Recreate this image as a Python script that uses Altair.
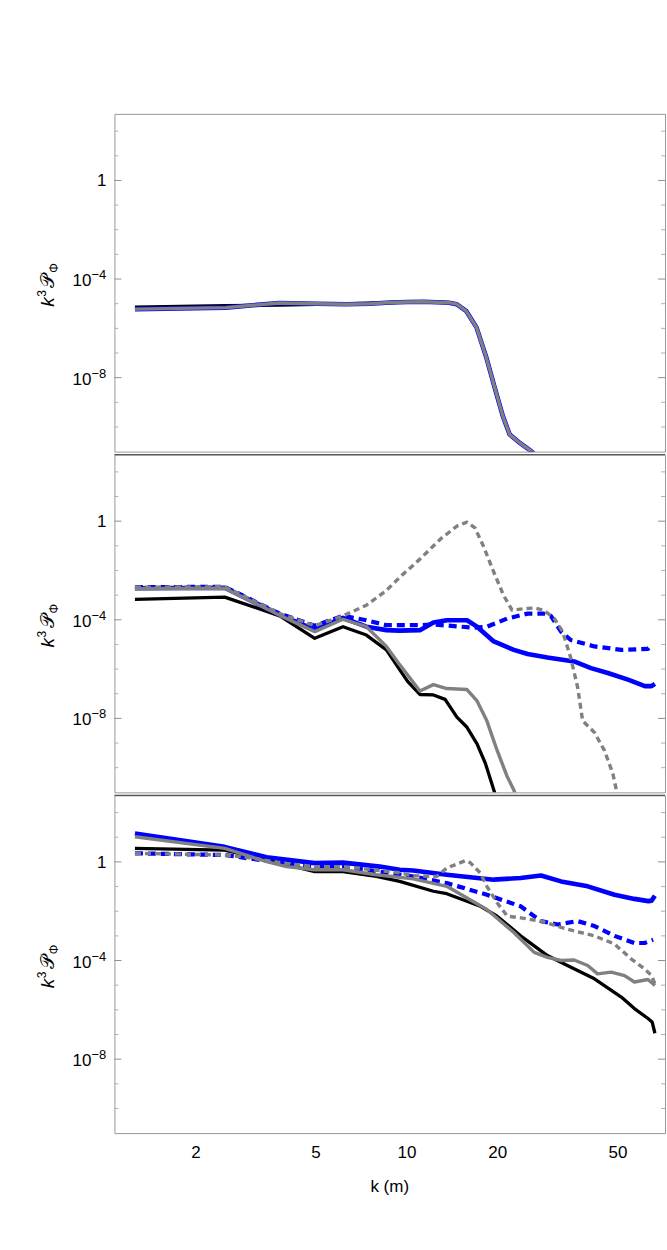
import altair as alt
import pandas as pd

# ---------------- axes ----------------
K_DOMAIN = [1.074, 71.6]
Y_DOMAIN = [1e-11, 501.0]
X_TICKS = [2, 5, 10, 20, 50]
X_TICK_TEXT = ["2", "5", "10", "20", "50"]
X_TITLE = "k (m)"
Y_MAJOR = [1e-8, 1e-4, 1.0]
Y_MINOR = [1e-10, 1e-9, 1e-7, 1e-6, 1e-5, 1e-3, 1e-2, 1e-1, 1e1, 1e2]
Y_POW_VALUES = [1e-8, 1e-4]
Y_POW_BASE = ["10", "10"]
Y_POW_EXP = ["\u22128", "\u22124"]
Y_ONE_VALUE = [1.0]
Y_ONE_TEXT = ["1"]

# ---------------- data (k, log10 of k^3 P_Phi) ----------------
# Panel 1
p1_gray_k = [1.256, 2.51, 3.77, 5.03, 6.28, 7.54, 8.8, 10.05, 11.3, 12.57, 13.8, 14.6, 15.7, 17.0, 18.3, 19.5, 20.8, 21.9, 23.6, 25.8, 27.0]
p1_gray_e = [-5.22, -5.16, -4.97, -5.0, -5.02, -5.0, -4.95, -4.93, -4.92, -4.94, -4.96, -5.02, -5.29, -5.96, -7.16, -8.37, -9.57, -10.31, -10.64, -10.98, -11.2]
p1_black_k = p1_gray_k
p1_black_e = [-5.14, -5.08, -5.06, -5.03, -5.01, -4.98, -4.96, -4.94, -4.93, -4.94, -4.96, -5.02, -5.29, -5.96, -7.16, -8.37, -9.57, -10.31, -10.64, -10.98, -11.2]
p1_blue_k = p1_gray_k
p1_blue_e = p1_gray_e

# Panel 2
p2_black_k = [1.256, 2.49, 3.79, 4.95, 6.14, 7.34, 8.55, 9.46, 10.05, 11.04, 12.24, 13.38, 14.64, 15.81, 17.07, 18.2, 19.4, 20.5]
p2_black_e = [-3.17, -3.08, -3.84, -4.75, -4.28, -4.62, -5.22, -6.02, -6.5, -7.03, -7.05, -7.23, -7.95, -8.36, -9.03, -9.83, -10.9, -11.8]
p2_gray_k = [1.256, 2.49, 3.79, 4.95, 6.14, 7.34, 8.55, 9.46, 11.04, 12.24, 13.55, 15.81, 17.07, 18.4, 19.9, 21.5, 22.6, 23.5]
p2_gray_e = [-2.74, -2.72, -3.82, -4.48, -3.98, -4.28, -5.08, -5.82, -6.89, -6.63, -6.79, -6.83, -7.29, -8.1, -9.3, -10.37, -10.9, -11.5]
p2_blue_k = [1.256, 2.49, 3.79, 4.95, 6.14, 7.34, 8.55, 9.46, 11.04, 12.24, 13.55, 15.81, 17.07, 19.4, 22.6, 25.1, 29.2, 35.8, 40.7, 46.3, 54.0, 61.4, 64.6, 66.3]
p2_blue_e = [-2.72, -2.70, -3.80, -4.40, -3.92, -4.28, -4.42, -4.44, -4.42, -4.11, -4.02, -4.02, -4.28, -4.88, -5.22, -5.39, -5.53, -5.69, -5.96, -6.16, -6.43, -6.69, -6.69, -6.6]
p2_bluedash_k = [1.256, 2.49, 3.79, 4.95, 6.14, 7.34, 8.55, 11.04, 12.24, 16.6, 18.4, 21.5, 25.1, 28.4, 30.0, 32.4, 34.9, 41.8, 51.3, 62.9, 64.6]
p2_bluedash_e = [-2.68, -2.66, -3.75, -4.24, -3.84, -4.02, -4.22, -4.22, -4.19, -4.32, -4.28, -3.95, -3.75, -3.75, -3.85, -4.48, -4.82, -5.08, -5.22, -5.18, -5.02]
p2_graydash_k = [1.256, 2.49, 3.79, 4.95, 6.14, 7.34, 8.55, 9.48, 11.04, 12.9, 14.64, 15.81, 16.8, 17.9, 19.4, 20.9, 22.3, 24.4, 26.4, 28.4, 30.8, 32.8, 34.9, 36.8, 38.2, 41.8, 45.1, 48.1, 49.4, 50.5]
p2_graydash_e = [-2.68, -2.66, -3.75, -4.24, -3.84, -3.41, -2.81, -2.27, -1.54, -0.73, -0.2, -0.04, -0.27, -1.0, -2.07, -3.01, -3.61, -3.55, -3.52, -3.61, -3.95, -4.48, -5.55, -6.76, -8.1, -8.57, -9.3, -10.24, -10.9, -11.5]

# Panel 3
p3_black_k = [1.256, 2.49, 3.43, 4.95, 6.14, 7.92, 9.46, 12.24, 13.55, 17.5, 19.9, 23.8, 29.2, 34.0, 41.8, 51.3, 56.7, 62.9, 64.9, 66.3]
p3_black_e = [0.55, 0.48, 0.08, -0.39, -0.39, -0.59, -0.79, -1.19, -1.29, -1.8, -2.2, -3.0, -3.8, -4.2, -4.74, -5.48, -5.95, -6.35, -6.49, -6.95]
p3_gray_k = [1.256, 2.49, 3.43, 3.99, 4.95, 6.14, 7.92, 10.5, 13.55, 18.4, 22.6, 26.4, 29.2, 32.4, 35.8, 39.7, 42.8, 47.5, 52.6, 56.7, 62.9, 66.3]
p3_gray_e = [1.02, 0.55, 0.01, -0.19, -0.32, -0.32, -0.52, -0.69, -0.99, -1.93, -2.86, -3.67, -3.87, -4.0, -3.98, -4.2, -4.54, -4.47, -4.61, -4.87, -4.77, -5.01]
p3_blue_k = [1.256, 2.49, 3.43, 4.95, 6.14, 8.13, 9.46, 10.5, 13.55, 19.4, 23.8, 27.8, 32.4, 39.7, 48.7, 56.7, 63.1, 64.6, 66.3]
p3_blue_e = [1.15, 0.61, 0.19, -0.05, -0.03, -0.19, -0.32, -0.35, -0.52, -0.72, -0.65, -0.55, -0.79, -0.99, -1.33, -1.5, -1.59, -1.57, -1.37]
p3_bluedash_k = [1.256, 2.49, 3.89, 4.95, 6.14, 8.13, 10.5, 13.55, 18.4, 23.8, 27.8, 31.6, 36.7, 41.8, 48.7, 56.7, 61.3, 65.4]
p3_bluedash_e = [0.35, 0.28, -0.05, -0.19, -0.19, -0.4, -0.59, -0.86, -1.33, -1.8, -2.4, -2.54, -2.4, -2.6, -3.0, -3.29, -3.29, -3.16]
p3_graydash_k = [1.256, 2.49, 2.86, 3.89, 4.95, 6.14, 9.46, 10.5, 12.55, 13.55, 15.6, 16.2, 17.5, 18.4, 19.9, 21.5, 23.8, 27.8, 34.0, 41.8, 48.7, 55.4, 61.3, 64.6, 66.6]
p3_graydash_e = [0.35, 0.28, 0.21, -0.05, -0.19, -0.19, -0.44, -0.56, -0.59, -0.25, 0.05, -0.03, -0.45, -0.99, -1.66, -2.2, -2.27, -2.4, -2.73, -3.0, -3.33, -3.94, -4.34, -4.61, -5.01]

PANELS = [
    {"black": (p1_black_k, p1_black_e), "blue": (p1_blue_k, p1_blue_e), "gray": (p1_gray_k, p1_gray_e)},
    {"black": (p2_black_k, p2_black_e), "blue": (p2_blue_k, p2_blue_e), "bluedash": (p2_bluedash_k, p2_bluedash_e),
     "gray": (p2_gray_k, p2_gray_e), "graydash": (p2_graydash_k, p2_graydash_e)},
    {"black": (p3_black_k, p3_black_e), "blue": (p3_blue_k, p3_blue_e), "bluedash": (p3_bluedash_k, p3_bluedash_e),
     "gray": (p3_gray_k, p3_gray_e), "graydash": (p3_graydash_k, p3_graydash_e)},
]

ORDER = ["black", "blue", "bluedash", "gray", "graydash"]
STYLE = {
    "black": dict(color="#000000", strokeWidth=3.3),
    "blue": dict(color="#0000ff", strokeWidth=4.6),
    "bluedash": dict(color="#0000ff", strokeWidth=4.2, strokeDash=[8, 5]),
    "gray": dict(color="#808080", strokeWidth=3.4),
    "graydash": dict(color="#808080", strokeWidth=3.4, strokeDash=[6, 4]),
}

W, H = 551, 338
FONT = "Liberation Sans"
LBL = 17      # tick label size
SUP = 13      # superscript size
TTL = 19      # y title size
TSUB = 12     # title super/subscript size

# y title pieces: (text, size, style, dx along the rotated baseline, dy)
TITLE_PIECES = [
    ("k", TTL, "italic", -21, 0),
    ("3", TSUB, "normal", -11, -8),
    ("\U0001D4AB", TTL, "normal", -2, 0),
    ("\u03a6", TSUB, "normal", 13, 4),
]


def make_panel(series, show_x, top_sep):
    X = alt.X("k:Q", scale=alt.Scale(type="log", domain=K_DOMAIN, nice=False), axis=None)
    Y = alt.Y("y:Q", scale=alt.Scale(type="log", domain=Y_DOMAIN, nice=False), axis=None)

    layers = []
    # inward frame ticks (left and right)
    minor = pd.DataFrame({"y": Y_MINOR})
    major = pd.DataFrame({"y": Y_MAJOR})
    for df, ln, col in [(minor, 4, "#b0b0b0"), (major, 7, "#909090")]:
        layers.append(alt.Chart(df).mark_rule(color=col, strokeWidth=1).encode(
            y=Y, x=alt.value(0), x2=alt.value(ln)))
        layers.append(alt.Chart(df).mark_rule(color=col, strokeWidth=1).encode(
            y=Y, x=alt.value(W), x2=alt.value(W - ln)))

    # y tick labels with real superscripts
    pow_df = pd.DataFrame({"y": Y_POW_VALUES, "base": Y_POW_BASE, "exp": Y_POW_EXP})
    one_df = pd.DataFrame({"y": Y_ONE_VALUE, "t": Y_ONE_TEXT})
    layers.append(alt.Chart(pow_df).mark_text(align="right", baseline="middle", font=FONT,
                                              fontSize=LBL, dy=2, color="#000000")
                  .encode(y=Y, x=alt.value(-23), text="base:N"))
    layers.append(alt.Chart(pow_df).mark_text(align="left", baseline="middle", font=FONT,
                                              fontSize=SUP, dy=-4, color="#000000")
                  .encode(y=Y, x=alt.value(-23), text="exp:N"))
    layers.append(alt.Chart(one_df).mark_text(align="right", baseline="middle", font=FONT,
                                              fontSize=LBL, dy=1, color="#000000")
                  .encode(y=Y, x=alt.value(-8), text="t:N"))

    # y title, rotated
    one = pd.DataFrame({"a": [0]})
    for txt, size, style, dx, dy in TITLE_PIECES:
        layers.append(alt.Chart(one).mark_text(text=txt, angle=270, align="left", baseline="alphabetic",
                                               font=FONT, fontSize=size, fontStyle=style,
                                               dx=dx, dy=dy, color="#000000")
                      .encode(x=alt.value(-60), y=alt.value(H / 2 + 3)))

    # x tick labels and title (bottom panel only)
    if show_x:
        xt = pd.DataFrame({"k": X_TICKS, "t": X_TICK_TEXT})
        layers.append(alt.Chart(xt).mark_text(align="center", baseline="middle", font=FONT,
                                              fontSize=LBL, color="#000000")
                      .encode(x=X, y=alt.value(H + 20), text="t:N"))
        layers.append(alt.Chart(one).mark_text(text=X_TITLE, align="center", baseline="middle",
                                               font=FONT, fontSize=LBL, color="#000000")
                      .encode(x=alt.value(W / 2), y=alt.value(H + 54)))

    for name in ORDER:
        if name not in series:
            continue
        ks, es = series[name]
        df = pd.DataFrame({"k": ks, "y": [10.0 ** e for e in es]})
        st = STYLE[name]
        layers.append(alt.Chart(df).mark_line(clip=True, strokeJoin="round", strokeCap="butt", **st)
                      .encode(x=X, y=Y))
    if top_sep:
        layers.append(alt.Chart(one).mark_rule(color="#555555", strokeWidth=1.2)
                      .encode(x=alt.value(0), x2=alt.value(W), y=alt.value(0)))
    return alt.layer(*layers).properties(width=W, height=H)


panels = [make_panel(PANELS[0], False, False),
          make_panel(PANELS[1], False, True),
          make_panel(PANELS[2], True, True)]

chart = alt.vconcat(*panels, spacing=0).properties(
    padding={"left": 35.5, "top": 112.5, "right": 0, "bottom": 5}
).configure_view(stroke="#999999", strokeWidth=1)

chart.save("out.html", embed_options={"renderer": "svg", "actions": False})
